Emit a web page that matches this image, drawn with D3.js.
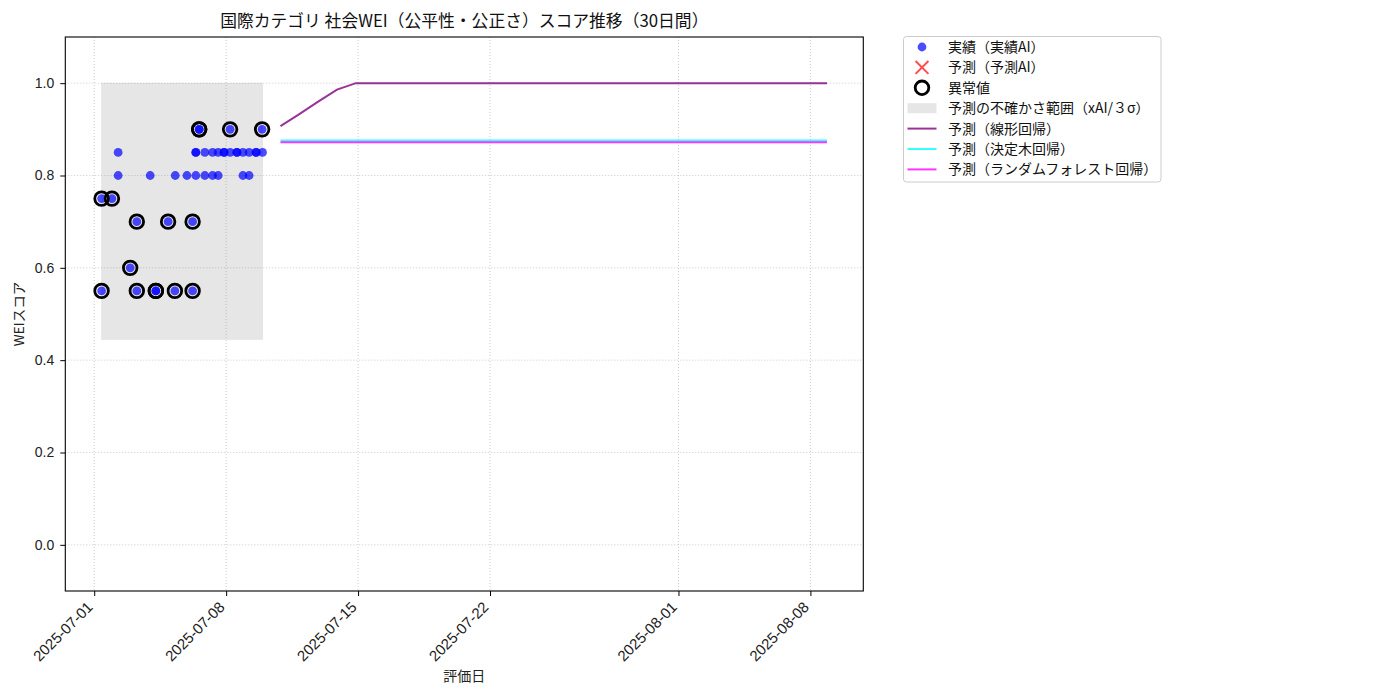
<!DOCTYPE html>
<html>
<head>
<meta charset="utf-8">
<script src="https://cdn.jsdelivr.net/npm/d3@7"></script>
<style>
  body { margin: 0; background: #fff; }
  svg { font-family: "Noto Sans CJK JP", "Noto Sans", sans-serif; }
</style>
</head>
<body>
<svg width="1400" height="700"></svg>
<script>
// actual evaluations (UTC timestamps), score and anomaly flag
const actualDates = [
  '2025-07-01T09:22', '2025-07-01T09:22', '2025-07-01T22:34',
  '2025-07-02T06:29', '2025-07-02T06:29', '2025-07-02T21:50',
  '2025-07-03T06:14', '2025-07-03T06:14', '2025-07-03T23:17',
  '2025-07-04T06:29', '2025-07-04T06:29', '2025-07-04T22:05',
  '2025-07-05T07:12', '2025-07-05T06:43', '2025-07-05T22:05',
  '2025-07-06T05:17', '2025-07-06T05:17', '2025-07-06T09:22',
  '2025-07-06T09:22', '2025-07-06T09:22', '2025-07-06T13:41',
  '2025-07-06T13:41', '2025-07-06T20:53', '2025-07-06T20:53',
  '2025-07-07T06:43', '2025-07-07T06:43', '2025-07-07T13:55',
  '2025-07-07T13:55', '2025-07-07T21:22', '2025-07-07T21:22',
  '2025-07-08T05:02', '2025-07-08T05:02', '2025-07-08T13:41',
  '2025-07-08T13:41', '2025-07-08T21:22', '2025-07-08T21:22',
  '2025-07-09T05:17', '2025-07-09T05:17', '2025-07-09T14:10',
  '2025-07-09T14:10', '2025-07-09T21:50', '2025-07-09T22:20',
];
const actualScores = [
  0.55, 0.75, 0.75,
  0.85, 0.80, 0.60,
  0.70, 0.55, 0.80,
  0.55, 0.55, 0.70,
  0.80, 0.55, 0.80,
  0.70, 0.55, 0.85,
  0.85, 0.80, 0.90,
  0.90, 0.85, 0.80,
  0.85, 0.80, 0.85,
  0.80, 0.85, 0.85,
  0.90, 0.85, 0.85,
  0.85, 0.85, 0.80,
  0.85, 0.80, 0.85,
  0.85, 0.90, 0.85,
];
const anomalyFlags = [
  1, 1, 1,
  0, 0, 1,
  1, 1, 0,
  1, 1, 1,
  0, 1, 0,
  1, 1, 0,
  0, 0, 1,
  1, 0, 0,
  0, 0, 0,
  0, 0, 0,
  1, 0, 0,
  0, 0, 0,
  0, 0, 0,
  0, 1, 0,
];

// uncertainty band (xAI / 3 sigma)
const bandLow = 0.445;
const bandHigh = 1.0;

// 30-day forecasts
const forecastStart = '2025-07-10T21:10';
const linearForecast = [
  0.907, 0.933, 0.960, 0.986, 1.0, 1.0, 1.0, 1.0, 1.0, 1.0,
  1.0, 1.0, 1.0, 1.0, 1.0, 1.0, 1.0, 1.0, 1.0, 1.0,
  1.0, 1.0, 1.0, 1.0, 1.0, 1.0, 1.0, 1.0, 1.0, 1.0,
];
const treeForecast = [
  0.876, 0.876, 0.876, 0.876, 0.876, 0.876, 0.876, 0.876, 0.876, 0.876,
  0.876, 0.876, 0.876, 0.876, 0.876, 0.876, 0.876, 0.876, 0.876, 0.876,
  0.876, 0.876, 0.876, 0.876, 0.876, 0.876, 0.876, 0.876, 0.876, 0.876,
];
const forestForecast = [
  0.872, 0.872, 0.872, 0.872, 0.872, 0.872, 0.872, 0.872, 0.872, 0.872,
  0.872, 0.872, 0.872, 0.872, 0.872, 0.872, 0.872, 0.872, 0.872, 0.872,
  0.872, 0.872, 0.872, 0.872, 0.872, 0.872, 0.872, 0.872, 0.872, 0.872,
];

const xTickDates = ['2025-07-01', '2025-07-08', '2025-07-15', '2025-07-22', '2025-08-01', '2025-08-08'];
const yTicks = [0.0, 0.2, 0.4, 0.6, 0.8, 1.0];

const legendLabels = [
  '実績（実績AI）', '予測（予測AI）', '異常値', '予測の不確かさ範囲（xAI/３σ）',
  '予測（線形回帰）', '予測（決定木回帰）', '予測（ランダムフォレスト回帰）',
];

const parseTime = d3.utcParse('%Y-%m-%dT%H:%M');
const parseDay = d3.utcParse('%Y-%m-%d');

const actual = actualDates.map((d, i) => ({
  date: parseTime(d), score: actualScores[i], anomaly: anomalyFlags[i] === 1,
}));
const fStart = parseTime(forecastStart);
const forecastDates = linearForecast.map((_, i) => d3.utcDay.offset(fStart, i));

const svg = d3.select('svg');
const plot = {left: 65.3, right: 863.3, top: 37, bottom: 591};

// matplotlib-style 5% margin on the x range
const allDates = actual.map(d => d.date).concat(forecastDates);
const [minD, maxD] = d3.extent(allDates);
const pad = (maxD - minD) * 0.05;
const x = d3.scaleUtc()
  .domain([new Date(+minD - pad), new Date(+maxD + pad)])
  .range([plot.left, plot.right]);
const y = d3.scaleLinear().domain([-0.1, 1.1]).range([plot.bottom, plot.top]);

svg.append('defs').append('clipPath').attr('id', 'plot-clip')
  .append('rect')
  .attr('x', plot.left).attr('y', plot.top)
  .attr('width', plot.right - plot.left).attr('height', plot.bottom - plot.top);

// grid
const grid = svg.append('g').attr('stroke', '#b0b0b0').attr('stroke-width', 0.8)
  .attr('stroke-dasharray', '1,2').attr('opacity', 0.8);
xTickDates.forEach(t => {
  const px = x(parseDay(t));
  grid.append('line').attr('x1', px).attr('x2', px).attr('y1', plot.top).attr('y2', plot.bottom);
});
yTicks.forEach(t => {
  grid.append('line').attr('x1', plot.left).attr('x2', plot.right).attr('y1', y(t)).attr('y2', y(t));
});

const body = svg.append('g').attr('clip-path', 'url(#plot-clip)');

// uncertainty band over the actual period
const [aMin, aMax] = d3.extent(actual, d => d.date);
body.append('rect')
  .attr('x', x(aMin)).attr('y', y(bandHigh))
  .attr('width', x(aMax) - x(aMin)).attr('height', y(bandLow) - y(bandHigh))
  .attr('fill', 'gray').attr('fill-opacity', 0.2)
  .attr('stroke', 'gray').attr('stroke-opacity', 0.1);

// forecast lines
const line = d3.line().x(d => x(d[0])).y(d => y(d[1]));
const series = [
  [linearForecast, 'purple'],
  [treeForecast, 'cyan'],
  [forestForecast, 'magenta'],
];
series.forEach(([vals, color]) => {
  body.append('path')
    .datum(vals.map((v, i) => [forecastDates[i], v]))
    .attr('d', line)
    .attr('fill', 'none').attr('stroke', color)
    .attr('stroke-opacity', 0.8).attr('stroke-width', 2);
});

// actual points
body.append('g').selectAll('circle').data(actual).join('circle')
  .attr('cx', d => x(d.date)).attr('cy', d => y(d.score)).attr('r', 4.4)
  .attr('fill', 'blue').attr('fill-opacity', 0.7);

// anomalies
body.append('g').selectAll('circle').data(actual.filter(d => d.anomaly)).join('circle')
  .attr('cx', d => x(d.date)).attr('cy', d => y(d.score)).attr('r', 6.8)
  .attr('fill', 'none').attr('stroke', 'black').attr('stroke-width', 2.8);

// frame
svg.append('rect')
  .attr('x', plot.left).attr('y', plot.top)
  .attr('width', plot.right - plot.left).attr('height', plot.bottom - plot.top)
  .attr('fill', 'none').attr('stroke', 'black').attr('stroke-width', 1.1);

// axes
const xAxis = svg.append('g').attr('transform', 'translate(0,' + plot.bottom + ')')
  .call(d3.axisBottom(x).tickValues(xTickDates.map(parseDay))
    .tickFormat(d3.utcFormat('%Y-%m-%d')).tickSize(5));
xAxis.select('.domain').remove();
xAxis.selectAll('text')
  .attr('font-size', 15).attr('fill', '#222')
  .attr('text-anchor', 'end')
  .attr('x', 0).attr('y', 0).attr('dy', 0)
  .attr('transform', 'translate(-1,17) rotate(-45)');

const yAxis = svg.append('g').attr('transform', 'translate(' + plot.left + ',0)')
  .call(d3.axisLeft(y).tickValues(yTicks).tickFormat(d3.format('.1f')).tickSize(5).tickPadding(6));
yAxis.select('.domain').remove();
yAxis.selectAll('text').attr('font-size', 14).attr('fill', '#222');

// title and axis labels
svg.append('text').attr('x', (plot.left + plot.right) / 2).attr('y', 27)
  .attr('text-anchor', 'middle').attr('font-size', 16.8).attr('fill', '#111')
  .text('国際カテゴリ 社会WEI（公平性・公正さ）スコア推移（30日間）');
svg.append('text').attr('x', (plot.left + plot.right) / 2).attr('y', 681)
  .attr('text-anchor', 'middle').attr('font-size', 14).attr('fill', '#222')
  .text('評価日');
svg.append('text').attr('transform', 'translate(24,' + ((plot.top + plot.bottom) / 2) + ') rotate(-90)')
  .attr('text-anchor', 'middle').attr('font-size', 13.5).attr('fill', '#222')
  .text('WEIスコア');

// legend
const legend = svg.append('g').attr('transform', 'translate(903.5,36.5)');
legend.append('rect').attr('width', 257.5).attr('height', 145.5).attr('rx', 3)
  .attr('fill', '#fff').attr('stroke', '#ccc').attr('stroke-width', 1);
const rowY = i => 10.5 + i * 20.4;
const mx = 18.5;
legend.append('circle').attr('cx', mx).attr('cy', rowY(0)).attr('r', 4.4)
  .attr('fill', 'blue').attr('fill-opacity', 0.7);
legend.append('path').attr('d', d3.symbol(d3.symbolX, 110)())
  .attr('transform', 'translate(' + mx + ',' + rowY(1) + ')')
  .attr('fill', 'none').attr('stroke', 'red').attr('stroke-opacity', 0.7).attr('stroke-width', 2);
legend.append('circle').attr('cx', mx).attr('cy', rowY(2)).attr('r', 6.8)
  .attr('fill', 'none').attr('stroke', 'black').attr('stroke-width', 2.8);
legend.append('rect').attr('x', 4).attr('y', rowY(3) - 5).attr('width', 29).attr('height', 10)
  .attr('fill', 'gray').attr('fill-opacity', 0.2);
series.forEach(([, color], i) => {
  legend.append('line').attr('x1', 4).attr('x2', 33).attr('y1', rowY(4 + i)).attr('y2', rowY(4 + i))
    .attr('stroke', color).attr('stroke-opacity', 0.8).attr('stroke-width', 2);
});
legendLabels.forEach((label, i) => {
  legend.append('text').attr('x', 44.5).attr('y', rowY(i)).attr('dy', '0.36em')
    .attr('font-size', 14).attr('fill', '#111').text(label);
});
</script>
</body>
</html>
